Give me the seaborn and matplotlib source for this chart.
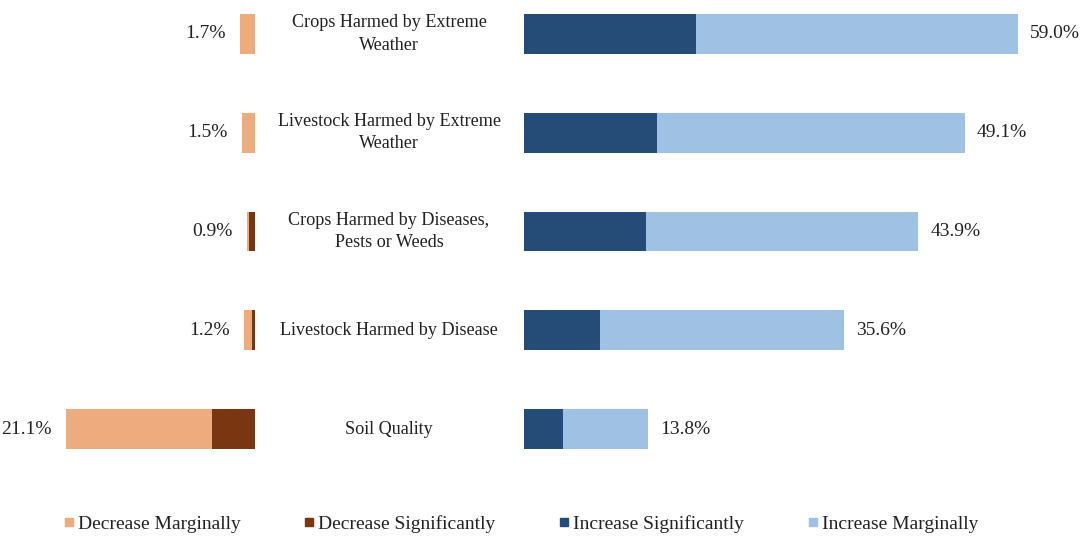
import matplotlib
matplotlib.use("Agg")
import matplotlib.pyplot as plt
import matplotlib.transforms as mtransforms
from matplotlib.lines import Line2D
import seaborn as sns
import pandas as pd

categories = [
    "Crops Harmed by Extreme\nWeather",
    "Livestock Harmed by Extreme\nWeather",
    "Crops Harmed by Diseases,\nPests or Weeds",
    "Livestock Harmed by Disease",
    "Soil Quality",
]
decrease_marginally = [1.7, 1.5, 0.2, 0.9, 16.3]
decrease_significantly = [0.0, 0.0, 0.7, 0.3, 4.8]
increase_significantly = [19.1, 14.8, 13.6, 8.5, 4.3]
increase_marginally = [35.9, 34.3, 30.3, 27.1, 9.5]
decrease_labels = ["1.7%", "1.5%", "0.9%", "1.2%", "21.1%"]
increase_labels = ["59.0%", "49.1%", "43.9%", "35.6%", "13.8%"]

c_dec_marg = "#EEAC7E"
c_dec_sig = "#7A3511"
c_inc_sig = "#254C77"
c_inc_marg = "#9EC1E4"

sns.set_theme(style="white")
plt.rcParams["font.family"] = ["Liberation Serif", "DejaVu Serif"]

df = pd.DataFrame({
    "cat": categories,
    "dec_total": [a + b for a, b in zip(decrease_marginally, decrease_significantly)],
    "dec_sig": decrease_significantly,
    "inc_total": [a + b for a, b in zip(increase_significantly, increase_marginally)],
    "inc_sig": increase_significantly,
})

W, H = 1089, 537
fig = plt.figure(figsize=(W / 100, H / 100), dpi=100)
pxpp = 8.98  # pixels per percent
top_px, bot_px = 0, 462
left_w = 255
ax_l = fig.add_axes([0, 1 - bot_px / H, left_w / W, (bot_px - top_px) / H])
ax_r = fig.add_axes([524 / W, 1 - bot_px / H, (W - 524) / W, (bot_px - top_px) / H])

bw = 0.405
kw = dict(width=bw, saturation=1, orient="h", linewidth=0)
sns.barplot(data=df, x="dec_total", y="cat", color=c_dec_marg, ax=ax_l, **kw)
sns.barplot(data=df, x="dec_sig", y="cat", color=c_dec_sig, ax=ax_l, **kw)
sns.barplot(data=df, x="inc_total", y="cat", color=c_inc_marg, ax=ax_r, **kw)
sns.barplot(data=df, x="inc_sig", y="cat", color=c_inc_sig, ax=ax_r, **kw)

row_px = 98.75
ax_l.set_xlim(left_w / pxpp, 0)
ax_r.set_xlim(0, (W - 524) / pxpp)
for ax in (ax_l, ax_r):
    ax.set_ylim((bot_px - 34) / row_px, -34 / row_px)
    ax.set_xlabel("")
    ax.set_ylabel("")
    ax.set_xticks([])
    ax.set_yticks([])
    for s in ax.spines.values():
        s.set_visible(False)

fs = 14
off_r = 12 / pxpp
off_l = 14 / pxpp
for i in range(len(categories)):
    ax_r.text(df["inc_total"][i] + off_r, i, increase_labels[i], ha="left", va="center", fontsize=fs, color="#222222")
    ax_l.text(df["dec_total"][i] + off_l, i, decrease_labels[i], ha="right", va="center", fontsize=fs, color="#222222")

tr = mtransforms.blended_transform_factory(fig.transFigure, ax_r.transData)
for i, c in enumerate(categories):
    fig.text(389 / W, i, c, transform=tr, ha="center", va="center", fontsize=13.1,
             color="#222222", linespacing=1.4, multialignment="center")

handles = [Line2D([0], [0], marker="s", linestyle="none", markersize=6, markerfacecolor=c, markeredgecolor=c)
           for c in (c_dec_marg, c_dec_sig, c_inc_sig, c_inc_marg)]
names = ["Decrease Marginally", "Decrease Significantly", "Increase Significantly", "Increase Marginally"]
fig.legend(handles, names, loc="center", bbox_to_anchor=(521 / W, 1 - 524 / H), ncol=4, frameon=False,
           fontsize=fs, handlelength=0.5, handletextpad=0.2, columnspacing=3.3, labelcolor="#222222")

fig.savefig("out.png", dpi=100)
